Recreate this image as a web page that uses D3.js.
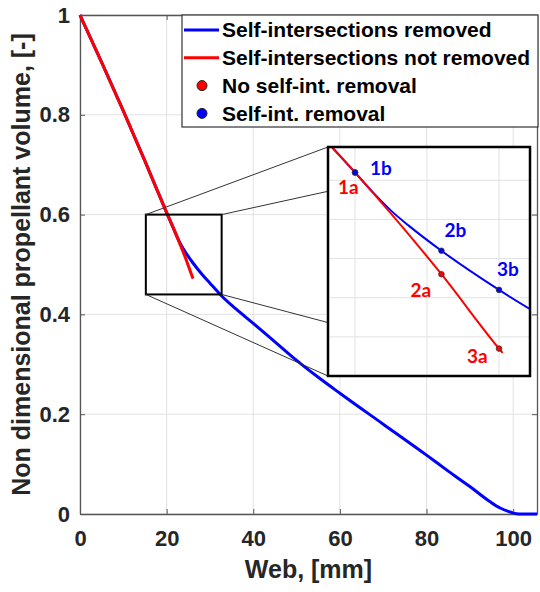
<!DOCTYPE html>
<html>
<head>
<meta charset="utf-8">
<script src="https://cdn.jsdelivr.net/npm/d3@7"></script>
<style>
body{margin:0;background:#fff;}
text{font-family:"Liberation Sans",Arial,sans-serif;font-weight:bold;}
</style>
</head>
<body>
<script>
// values
var webRemoved = [0,5,10,15,20,22,22.5,23,23.5,24.4,26,28,30,32.7,36,40,45,50,55,60,70,80,85,90,94.6,97,99.3,100.8,102,105.5];
var volRemoved = [1,0.905,0.808,0.707,0.604,0.564,0.5538,0.5445,0.5367,0.524,0.504,0.482,0.4625,0.437,0.411,0.382,0.345,0.308,0.274,0.242,0.18,0.118,0.086,0.055,0.025,0.012,0.004,0.0005,0,0];
var webNotRemoved = [0,5,10,15,20,22,24.4,26,26.1];
var volNotRemoved = [1,0.905,0.808,0.707,0.604,0.564,0.512,0.474,0.4718];

// marked points in the zoom
var pointNames = ["1","2","3"];
var pointWeb = [22,24.4,26];
var pointVolA = [0.564,0.512,0.474];
var pointVolB = [0.564,0.524,0.504];

var xTicks = [0,20,40,60,80,100];
var yTicks = [0,0.2,0.4,0.6,0.8,1];
var zoomWebRange = [15.2,32.7];
var zoomVolRange = [0.44,0.6];
var insetXDomain = [21.25,26.86];
var insetYDomain = [0.46,0.577];
var insetXGrid = [22,24,26];
var insetYGrid = [0.48,0.5,0.52,0.54,0.56];

var legendNames = ["Self-intersections removed","Self-intersections not removed","No self-int. removal","Self-int. removal"];

var blue = "#0000ff", red = "#ff0000";

var W = 540, H = 592;
var pLeft = 80, pTop = 15, pRight = 537, pBottom = 514;

var svg = d3.select("body").append("svg").attr("width",W).attr("height",H);

var x = d3.scaleLinear().domain([0,105.5]).range([pLeft,pRight]);
var y = d3.scaleLinear().domain([0,1]).range([pBottom,pTop]);

// grid
svg.append("g").selectAll("line").data(xTicks).enter().append("line")
  .attr("x1",function(d){return x(d);}).attr("x2",function(d){return x(d);})
  .attr("y1",pTop).attr("y2",pBottom).attr("stroke","#e2e2e2").attr("stroke-width",1);
svg.append("g").selectAll("line").data(yTicks).enter().append("line")
  .attr("x1",pLeft).attr("x2",pRight)
  .attr("y1",function(d){return y(d);}).attr("y2",function(d){return y(d);})
  .attr("stroke","#e2e2e2").attr("stroke-width",1);

// axes (box style, ticks pointing in)
var axisColor = "#555";
function styleAxis(g){
  g.select(".domain").attr("stroke",axisColor).attr("stroke-width",1.3);
  g.selectAll(".tick line").attr("stroke",axisColor);
  g.selectAll(".tick text").attr("fill","#262626").style("font-size","22px");
}
svg.append("g").attr("transform","translate(0,"+pBottom+")")
  .call(d3.axisBottom(x).tickValues(xTicks).tickSize(-5).tickPadding(16).tickSizeOuter(0))
  .call(styleAxis);
svg.append("g").attr("transform","translate("+pLeft+",0)")
  .call(d3.axisLeft(y).tickValues(yTicks).tickSize(-5).tickPadding(10).tickSizeOuter(0).tickFormat(d3.format("")))
  .call(styleAxis);
svg.append("g").attr("transform","translate(0,"+pTop+")")
  .call(d3.axisTop(x).tickValues(xTicks).tickSize(-5).tickSizeOuter(0).tickFormat(""))
  .call(styleAxis);
svg.append("g").attr("transform","translate("+pRight+",0)")
  .call(d3.axisRight(y).tickValues(yTicks).tickSize(-5).tickSizeOuter(0).tickFormat(""))
  .call(styleAxis);

// axis titles
svg.append("text").attr("x",(pLeft+pRight)/2).attr("y",578).attr("text-anchor","middle")
  .attr("fill","#262626").style("font-size","25px").text("Web, [mm]");
svg.append("text").attr("transform","translate(30,"+((pTop+pBottom)/2)+") rotate(-90)")
  .attr("text-anchor","middle").attr("fill","#262626").style("font-size","25px")
  .text("Non dimensional propellant volume, [-]");

// curves in the main axes
var blueData = webRemoved.map(function(d,i){return [d,volRemoved[i]];});
var redData = webNotRemoved.map(function(d,i){return [d,volNotRemoved[i]];});
var line = d3.line().x(function(d){return x(d[0]);}).y(function(d){return y(d[1]);}).curve(d3.curveMonotoneX);
svg.append("path").datum(blueData).attr("d",line).attr("fill","none").attr("stroke",blue).attr("stroke-width",3);
svg.append("path").datum(redData).attr("d",line).attr("fill","none").attr("stroke",red).attr("stroke-width",3);

// zoom rectangle
var zx0 = x(zoomWebRange[0]), zx1 = x(zoomWebRange[1]), zy0 = y(zoomVolRange[1]), zy1 = y(zoomVolRange[0]);
svg.append("rect").attr("x",zx0).attr("y",zy0).attr("width",zx1-zx0).attr("height",zy1-zy0)
  .attr("fill","none").attr("stroke","#000").attr("stroke-width",2);

// inset
var ix0 = 328, iy0 = 147, iw = 202, ih = 229;
var connectors = [[zx0,zy0,ix0,iy0],[zx1,zy0,ix0+iw,iy0],[zx1,zy1,ix0+iw,iy0+ih],[zx0,zy1,ix0,iy0+ih]];
svg.append("g").selectAll("line").data(connectors).enter().append("line")
  .attr("x1",function(d){return d[0];}).attr("y1",function(d){return d[1];})
  .attr("x2",function(d){return d[2];}).attr("y2",function(d){return d[3];})
  .attr("stroke","#333").attr("stroke-width",1);

var ix = d3.scaleLinear().domain(insetXDomain).range([0,iw]);
var iy = d3.scaleLinear().domain(insetYDomain).range([ih,0]);
var inset = svg.append("g").attr("transform","translate("+ix0+","+iy0+")");
svg.append("clipPath").attr("id","insetClip").append("rect").attr("width",iw).attr("height",ih);
inset.append("rect").attr("width",iw).attr("height",ih).attr("fill","#fff");
var ig = inset.append("g").attr("clip-path","url(#insetClip)");
ig.selectAll(".vg").data(insetXGrid).enter().append("line")
  .attr("x1",function(d){return ix(d);}).attr("x2",function(d){return ix(d);})
  .attr("y1",0).attr("y2",ih).attr("stroke","#e2e2e2");
ig.selectAll(".hg").data(insetYGrid).enter().append("line")
  .attr("x1",0).attr("x2",iw)
  .attr("y1",function(d){return iy(d);}).attr("y2",function(d){return iy(d);}).attr("stroke","#e2e2e2");
var iline = d3.line().x(function(d){return ix(d[0]);}).y(function(d){return iy(d[1]);}).curve(d3.curveMonotoneX);
ig.append("path").datum(blueData).attr("d",iline).attr("fill","none").attr("stroke",blue).attr("stroke-width",2);
ig.append("path").datum(redData).attr("d",iline).attr("fill","none").attr("stroke",red).attr("stroke-width",2);

var ptsB = pointWeb.map(function(d,i){return {w:d,v:pointVolB[i],name:pointNames[i]+"b"};});
var ptsA = pointWeb.map(function(d,i){return {w:d,v:pointVolA[i],name:pointNames[i]+"a"};});
ig.selectAll(".pa").data(ptsA).enter().append("circle")
  .attr("cx",function(d){return ix(d.w);}).attr("cy",function(d){return iy(d.v);}).attr("r",2.8)
  .attr("fill",red).attr("stroke","#333").attr("stroke-width",0.8);
ig.selectAll(".pb").data(ptsB).enter().append("circle")
  .attr("cx",function(d){return ix(d.w);}).attr("cy",function(d){return iy(d.v);}).attr("r",2.8)
  .attr("fill",blue).attr("stroke","#333").attr("stroke-width",0.8);

// label offsets from their markers, in pixels
var labelOffset = {"1b":[15,3],"1a":[-17,22],"2b":[3,-14],"2a":[-31,23],"3b":[-2,-14],"3a":[-32,14]};
inset.selectAll(".lbl").data(ptsB.concat(ptsA)).enter().append("text")
  .attr("x",function(d){return ix(d.w)+labelOffset[d.name][0];})
  .attr("y",function(d){return iy(d.v)+labelOffset[d.name][1];})
  .attr("fill",function(d){return d.name.slice(-1)=="b"?blue:red;})
  .style("font-family","Lato,'Liberation Sans',sans-serif").style("font-size","19px")
  .text(function(d){return d.name;});
inset.append("rect").attr("width",iw).attr("height",ih).attr("fill","none").attr("stroke","#000").attr("stroke-width",2.5);

// legend
var lg = svg.append("g");
lg.append("rect").attr("x",182).attr("y",15).attr("width",356).attr("height",112)
  .attr("fill","#fff").attr("stroke","#333").attr("stroke-width",1.2);
var legendColors = [blue,red,red,blue];
legendNames.forEach(function(name,i){
  var ly = 30 + i*27.8;
  if(i<2){
    lg.append("line").attr("x1",184).attr("x2",219).attr("y1",ly).attr("y2",ly)
      .attr("stroke",legendColors[i]).attr("stroke-width",3);
  } else {
    lg.append("circle").attr("cx",202).attr("cy",ly).attr("r",5)
      .attr("fill",legendColors[i]).attr("stroke","#222").attr("stroke-width",1);
  }
  lg.append("text").attr("x",222).attr("y",ly).attr("dy","0.35em")
    .attr("fill","#000").style("font-size","21px").text(name);
});
</script>
</body>
</html>
